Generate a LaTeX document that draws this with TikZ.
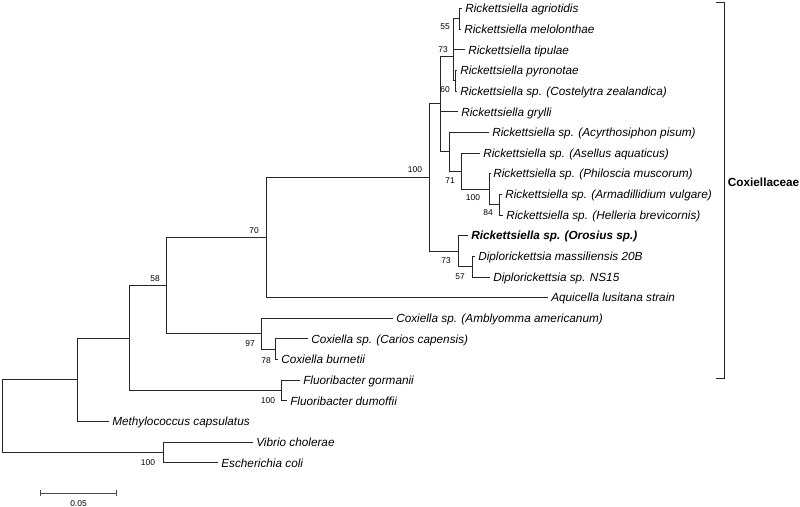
\documentclass[tikz,border=0pt]{standalone}
\usepackage{fontspec}
\setmainfont{Liberation Sans}
\usetikzlibrary{arrows.meta,calc}

\tikzset{
  leaf/.style={anchor=west, inner xsep=2.6pt, inner ysep=0pt, text height=7.2pt, text depth=0pt,
    font=\fontsize{10.05}{12}\selectfont\itshape},
  boot/.style={inner sep=0pt, text height=5.2pt, text depth=0pt, font=\fontsize{7.2}{8}\selectfont},
  branch/.style={line width=0.8pt, draw=black!85}
}

\begin{document}
\begin{tikzpicture}[x=0.03cm, y=-0.03cm]
    \useasboundingbox (0,0) rectangle (800,507);

    % Internal nodes
    \coordinate (root) at (2,416);
    \coordinate (nIn) at (77,379.8);
    \coordinate (nOut) at (163,452.5);
    \coordinate (nA) at (129,338.1);
    \coordinate (n58) at (166,285.7);
    \coordinate (nFl) at (281,390.6);
    \coordinate (n70) at (266,237.6);
    \coordinate (n97) at (261,333.8);
    \coordinate (n78) at (275,349.3);
    \coordinate (n100) at (429.5,177.5);
    \coordinate (nX) at (440,103.9);
    \coordinate (n73) at (453.5,56);
    \coordinate (n55) at (459,18.8);
    \coordinate (n60) at (455.5,80.8);
    \coordinate (nAcy) at (449,151.8);
    \coordinate (n71) at (461,171.1);
    \coordinate (n100b) at (489.5,189.2);
    \coordinate (n84) at (499.5,204.7);
    \coordinate (n73b) at (458,251.2);
    \coordinate (n57) at (472,266.7);

    % Leaves
    \node[leaf] (agr) at (462,8.5) {Rickettsiella agriotidis};
    \node[leaf] (mel) at (461,29.2) {Rickettsiella melolonthae};
    \node[leaf] (tip) at (465,49.8) {Rickettsiella tipulae};
    \node[leaf] (pyr) at (457,70.5) {Rickettsiella pyronotae};
    \node[leaf] (cost) at (457,91.1) {Rickettsiella sp. (Costelytra zealandica)};
    \node[leaf] (gry) at (458,111.8) {Rickettsiella grylli};
    \node[leaf] (acy) at (489,132.4) {Rickettsiella sp. (Acyrthosiphon pisum)};
    \node[leaf] (ase) at (480,153.1) {Rickettsiella sp. (Asellus aquaticus)};
    \node[leaf] (phi) at (490,173.7) {Rickettsiella sp. (Philoscia muscorum)};
    \node[leaf] (arm) at (502,194.4) {Rickettsiella sp. (Armadillidium vulgare)};
    \node[leaf] (hel) at (503,215) {Rickettsiella sp. (Helleria brevicornis)};
    \node[leaf, font=\fontsize{10.05}{12}\selectfont\bfseries\itshape] (oro) at (468,235.7) {Rickettsiella sp. (Orosius sp.)};
    \node[leaf] (dmas) at (475,256.3) {Diplorickettsia massiliensis 20B};
    \node[leaf] (dns) at (490,277) {Diplorickettsia sp. NS15};
    \node[leaf] (aqu) at (548,297.6) {Aquicella lusitana strain};
    \node[leaf] (amb) at (393,318.3) {Coxiella sp. (Amblyomma americanum)};
    \node[leaf] (car) at (308,338.9) {Coxiella sp. (Carios capensis)};
    \node[leaf] (bur) at (278,359.6) {Coxiella burnetii};
    \node[leaf] (gor) at (300,380.2) {Fluoribacter gormanii};
    \node[leaf] (dum) at (287,400.9) {Fluoribacter dumoffii};
    \node[leaf] (met) at (109,421.5) {Methylococcus capsulatus};
    \node[leaf] (vib) at (253,442.2) {Vibrio cholerae};
    \node[leaf] (eco) at (218,462.8) {Escherichia coli};

    % Backbone
    \draw[branch] (root) |- (nIn) (root) |- (nOut);
    \draw[branch] (nIn) |- (nA) (nIn) |- (met.west);
    \draw[branch] (nA) |- (n58) (nA) |- (nFl);
    \draw[branch] (n58) |- (n70) (n58) |- (n97);
    \draw[branch] (n70) |- (n100) (n70) |- (aqu.west);
    \draw[branch] (n100) |- (nX) (n100) |- (n73b);

    % Rickettsiella
    \draw[branch] (nX) |- (n73) (nX) |- (gry.west) (nX) |- (nAcy);
    \draw[branch] (n73) |- (n55) (n73) |- (tip.west) (n73) |- (n60);
    \draw[branch] (n55) |- (agr.west) (n55) |- (mel.west);
    \draw[branch] (n60) |- (pyr.west) (n60) |- (cost.west);
    \draw[branch] (nAcy) |- (acy.west) (nAcy) |- (n71);
    \draw[branch] (n71) |- (ase.west) (n71) |- (n100b);
    \draw[branch] (n100b) |- (phi.west) (n100b) |- (n84);
    \draw[branch] (n84) |- (arm.west) (n84) |- (hel.west);

    % Orosius and Diplorickettsia
    \draw[branch] (n73b) |- (oro.west) (n73b) |- (n57);
    \draw[branch] (n57) |- (dmas.west) (n57) |- (dns.west);

    % Coxiella, Fluoribacter, outgroup
    \draw[branch] (n97) |- (amb.west) (n97) |- (n78);
    \draw[branch] (n78) |- (car.west) (n78) |- (bur.west);
    \draw[branch] (nFl) |- (gor.west) (nFl) |- (dum.west);
    \draw[branch] (nOut) |- (vib.west) (nOut) |- (eco.west);

    % Bootstrap values
    \node[boot] (b55) at (445,26) {55};
    \node[boot] (b73) at (443,49) {73};
    \node[boot] (b60) at (445,89) {60};
    \node[boot] (b100) at (415,169) {100};
    \node[boot] (b71) at (450,180) {71};
    \node[boot] (b100b) at (473,197) {100};
    \node[boot] (b84) at (488,212) {84};
    \node[boot] (b73b) at (446,260) {73};
    \node[boot] (b57) at (460,276) {57};
    \node[boot] (b70) at (254,230) {70};
    \node[boot] (b58) at (155,278) {58};
    \node[boot] (b97) at (250,343) {97};
    \node[boot] (b78) at (266,360) {78};
    \node[boot] (bFl) at (268,400) {100};
    \node[boot] (bOut) at (148,462) {100};

    % Family bracket
    \coordinate (brt) at (724,2);
    \coordinate (brb) at (724,378);
    \draw[branch] ([xshift=-0.24cm]brt) -- (brt) -- (brb) -- ([xshift=-0.24cm]brb);
    \node[anchor=east, inner sep=0pt, text height=7.2pt, text depth=0pt,
      font=\fontsize{10.05}{12}\selectfont\bfseries] (fam) at (799.5,182) {Coxiellaceae};

    % Scale bar
    \coordinate (sbl) at (40,493);
    \coordinate (sbr) at (117,493);
    \draw[line width=0.8pt, black!70, {Bar[width=5pt]}-{Bar[width=5pt]}] (sbl) -- (sbr);
    \node[boot] (sbt) at ($(sbl)!0.5!(sbr)+(0,10)$) {0.05};

\end{tikzpicture}
\end{document}
